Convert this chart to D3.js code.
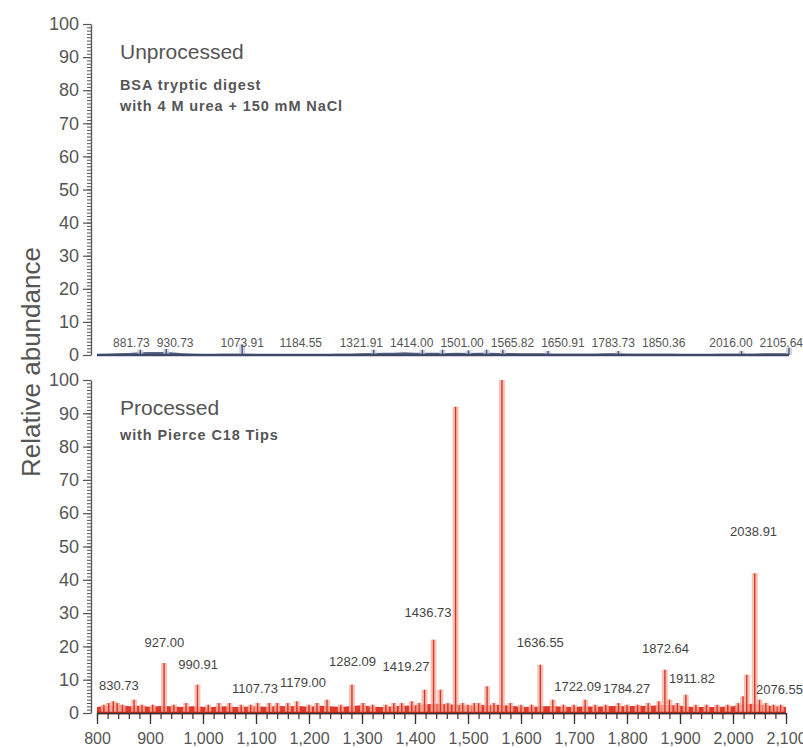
<!DOCTYPE html>
<html>
<head>
<meta charset="utf-8">
<script src="https://cdn.jsdelivr.net/npm/d3@7"></script>
<style>
    body { margin: 0; background: #fff; }
    text { font-family: "Liberation Sans", Arial, sans-serif; }
</style>
</head>
<body>
<svg id="chart" width="803" height="748"></svg>
<script>
// axis ticks
var xTicks = [800, 900, 1000, 1100, 1200, 1300, 1400, 1500, 1600, 1700, 1800, 1900, 2000, 2100];
var yTicks = [0, 10, 20, 30, 40, 50, 60, 70, 80, 90, 100];

// unprocessed spectrum: baseline level every 20 m/z from 800, then the small spikes
var rawBase = [0.3, 0.4, 0.5, 0.6, 0.8, 0.9, 0.9, 0.8, 0.5, 0.4, 0.3, 0.3, 0.4, 0.4, 0.4, 0.3, 0.3,
    0.3, 0.3, 0.3, 0.3, 0.3, 0.3, 0.4, 0.4, 0.5, 0.6, 0.7, 0.7, 0.8, 0.7, 0.7, 0.7, 0.6, 0.7, 0.6,
    0.7, 0.7, 0.6, 0.6, 0.5, 0.5, 0.5, 0.4, 0.4, 0.4, 0.4, 0.4, 0.5, 0.5, 0.4, 0.4, 0.4, 0.4, 0.4,
    0.3, 0.3, 0.3, 0.3, 0.4, 0.4, 0.4, 0.4, 0.5, 0.5, 0.5];
var rawPeakMz = [881.7, 930.7, 1073.9, 1321.9, 1414.0, 1452, 1501.0, 1535, 1565.8, 1650.9, 1783.7, 2016.0, 2105.6];
var rawPeakInt = [1.6, 1.8, 3.2, 1.6, 1.6, 1.6, 1.4, 1.6, 1.6, 1.2, 1.2, 1.2, 2.2];
var rawLabels = [881.73, 930.73, 1073.91, 1184.55, 1321.91, 1414.00, 1501.00, 1565.82, 1650.91, 1783.73, 1850.36, 2016.00, 2105.64];

// processed spectrum
var procBase = [1.8, 2.2, 2.4, 2.0, 2.2, 1.9, 2.1, 2.0, 1.8, 2.0, 1.9, 1.8, 2.0, 1.8, 1.9, 2.0, 1.9,
    2.1, 2.0, 2.1, 1.9, 2.2, 2.0, 1.8, 2.1, 2.3, 1.9, 1.8, 2.0, 2.2, 2.3, 2.6, 2.8, 2.6, 2.5, 2.2,
    2.4, 2.3, 2.5, 2.2, 1.9, 1.8, 2.0, 2.1, 1.9, 1.8, 2.0, 1.9, 2.0, 2.1, 2.0, 2.2, 2.1, 2.3, 2.4,
    2.2, 1.9, 1.8, 1.8, 1.9, 2.0, 2.6, 2.8, 2.3, 2.0, 1.8];
var procPeakMz = [813, 822, 830.7, 838, 848, 870, 885, 905, 926.5, 945, 968, 989.5, 1010, 1030, 1050,
    1072, 1090, 1103, 1125, 1140, 1160, 1177, 1200, 1215, 1234, 1260, 1281, 1302, 1320, 1345, 1360,
    1375, 1394, 1408, 1418, 1435, 1448, 1462, 1476.5, 1490, 1500, 1512, 1520, 1536, 1549, 1564,
    1580, 1600, 1620, 1636.5, 1660, 1680, 1700, 1721, 1740, 1760, 1784, 1800, 1820, 1840, 1860,
    1871.5, 1880, 1895, 1911, 1930, 1950, 1970, 1990, 2010, 2019, 2026, 2041, 2050, 2062, 2076.6, 2090];
var procPeakInt = [2.5, 3.0, 3.5, 3.0, 2.5, 4.0, 2.5, 2.5, 15.0, 2.5, 3.0, 8.5, 2.5, 3.0, 3.0,
    2.5, 2.5, 3.0, 3.0, 3.0, 3.0, 3.5, 2.5, 3.0, 4.0, 2.5, 8.5, 3.0, 2.5, 2.5, 3.0,
    3.0, 3.5, 3.0, 7.0, 22.0, 7.0, 3.0, 92.0, 3.0, 2.5, 3.0, 3.0, 8.0, 3.0, 100.0,
    3.0, 2.5, 2.5, 14.5, 4.0, 2.5, 2.5, 4.0, 2.5, 2.5, 3.0, 2.5, 2.5, 3.0, 3.5,
    13.0, 4.0, 3.0, 5.5, 2.5, 2.5, 2.5, 2.5, 3.0, 5.0, 11.5, 42.0, 4.0, 3.0, 2.5, 2.5];
var procLabels = [830.73, 927.00, 990.91, 1107.73, 1179.00, 1282.09, 1419.27, 1436.73, 1636.55,
    1722.09, 1784.27, 1872.64, 1911.82, 2038.91, 2076.55];
// abundance level each annotation sits at
var procLabelLevel = [7.0, 19.7, 13.1, 5.9, 7.7, 14.0, 12.5, 28.7, 19.7, 6.5, 5.9, 17.9, 8.9, 53.3, 5.6];

var svg = d3.select("#chart");

var x = d3.scaleLinear().domain([800, 2100]).range([97, 786]);
var yTop = d3.scaleLinear().domain([0, 100]).range([355, 24]);
var yBot = d3.scaleLinear().domain([0, 100]).range([713, 380]);
var axisX = 91;

function baseMz(i) { return 800 + i * 20; }

function drawYAxis(y) {
    var minor = svg.append("g").attr("transform", "translate(" + axisX + ",0)")
        .call(d3.axisLeft(y).tickValues(d3.range(0, 101, 1)).tickSize(4).tickSizeOuter(0).tickFormat(""));
    minor.select(".domain").remove();
    minor.selectAll("line").attr("stroke", "#555");

    var major = svg.append("g").attr("transform", "translate(" + axisX + ",0)")
        .call(d3.axisLeft(y).tickValues(yTicks).tickSize(8).tickSizeOuter(0).tickPadding(4));
    major.select(".domain").attr("stroke", "#555").attr("stroke-width", 1.3);
    major.selectAll("line").attr("stroke", "#555").attr("stroke-width", 1.2);
    major.selectAll("text").attr("font-size", 18).attr("fill", "#555")
        .attr("font-family", "'Liberation Sans', Arial, sans-serif");
}

// peak annotations; labels are nudged sideways off each other and off taller peaks
function placeLabels(vals, levels, y, size, color, pad, peakMz, peakInt) {
    var g = svg.append("g");
    var items = vals.map(function (v, i) {
        var t = g.append("text")
            .attr("x", x(v))
            .attr("y", y(levels[i]))
            .attr("text-anchor", "middle")
            .attr("font-size", size)
            .attr("fill", color)
            .text(d3.format(".2f")(v));
        return { node: t, cx: x(v), y: y(levels[i]), lvl: levels[i], w: t.node().getComputedTextLength() };
    });
    for (var k = 0; k < 60; k++) {
        for (var i = 0; i < items.length; i++) {
            for (var j = i + 1; j < items.length; j++) {
                var a = items[i], b = items[j];
                if (Math.abs(a.y - b.y) > size) continue;
                var gap = (a.w + b.w) / 2 + pad - Math.abs(b.cx - a.cx);
                if (gap > 0) {
                    var s = b.cx >= a.cx ? 1 : -1;
                    a.cx -= s * gap / 2;
                    b.cx += s * gap / 2;
                }
            }
        }
        items.forEach(function (d) {
            (peakMz || []).forEach(function (m, p) {
                if (peakInt[p] < d.lvl) return;
                var px = x(m), over = d.w / 2 + 4 - Math.abs(d.cx - px);
                if (over > 0) d.cx += (d.cx >= px ? 1 : -1) * over;
            });
            d.cx = Math.max(axisX + 8 + d.w / 2, Math.min(803 - d.w / 2, d.cx));
        });
    }
    items.forEach(function (d) { d.node.attr("x", d.cx); });
}

function drawSpectrum(y, base, peakMz, peakInt, halo, core, fill) {
    var area = d3.area()
        .x(function (d, i) { return x(baseMz(i)); })
        .y0(y(0))
        .y1(function (d) { return y(d); });
    svg.append("path").datum(base).attr("d", area).attr("fill", fill);

    var sticks = peakMz.map(function (m, i) { return [m, peakInt[i]]; });
    var line = function (d) { return "M" + x(d[0]) + "," + y(0) + "V" + y(d[1]); };
    svg.append("g").selectAll("path").data(sticks).join("path")
        .attr("d", line).attr("stroke", halo).attr("stroke-width", 6).attr("opacity", 0.8);
    svg.append("g").selectAll("path").data(sticks).join("path")
        .attr("d", line).attr("stroke", core).attr("stroke-width", 1.4);
}

// top panel
drawYAxis(yTop);
drawSpectrum(yTop, rawBase, rawPeakMz, rawPeakInt, "#c3cadf", "#4b5577", "#5a6486");
svg.append("line")
    .attr("x1", x(800)).attr("x2", x(2105.6))
    .attr("y1", yTop(0)).attr("y2", yTop(0))
    .attr("stroke", "#3f4868").attr("stroke-width", 2.5);
placeLabels(rawLabels, rawLabels.map(function () { return 2.4; }), yTop, 12, "#555", 7);

// bottom panel
drawYAxis(yBot);
drawSpectrum(yBot, procBase, procPeakMz, procPeakInt, "#f6b4a4", "#d5372a", "#e0382a");
svg.append("line")
    .attr("x1", x(800)).attr("x2", x(2100))
    .attr("y1", yBot(0)).attr("y2", yBot(0))
    .attr("stroke", "#d2281c").attr("stroke-width", 2.5);
placeLabels(procLabels, procLabelLevel, yBot, 13, "#444", 2, procPeakMz, procPeakInt);

// x axis
var xMinor = svg.append("g").attr("transform", "translate(0," + yBot(0) + ")")
    .call(d3.axisBottom(x).tickValues(d3.range(800, 2101, 20)).tickSize(6).tickSizeOuter(0).tickFormat(""));
xMinor.select(".domain").remove();
xMinor.selectAll("line").attr("stroke", "#333").attr("stroke-width", 1.2);
var xMajor = svg.append("g").attr("transform", "translate(0," + yBot(0) + ")")
    .call(d3.axisBottom(x).tickValues(xTicks).tickSize(11).tickSizeOuter(0).tickPadding(9).tickFormat(d3.format(",")));
xMajor.select(".domain").attr("stroke", "#333").attr("stroke-width", 1.3);
xMajor.selectAll("line").attr("stroke", "#333").attr("stroke-width", 1.3);
xMajor.selectAll("text").attr("font-size", 16).attr("fill", "#555")
    .attr("font-family", "'Liberation Sans', Arial, sans-serif");

// panel titles
function title(txt, yPos, size, bold) {
    svg.append("text").attr("x", 120).attr("y", yPos)
        .attr("font-size", size)
        .attr("font-weight", bold ? "bold" : "normal")
        .attr("letter-spacing", bold ? 0.9 : 0)
        .attr("fill", "#555")
        .text(txt);
}
title("Unprocessed", 59, 21, false);
title("BSA tryptic digest", 90, 14.5, true);
title("with 4 M urea + 150 mM NaCl", 111, 14.5, true);
title("Processed", 415, 21, false);
title("with Pierce C18 Tips", 440, 14.5, true);

svg.append("text")
    .attr("transform", "translate(40,362) rotate(-90)")
    .attr("text-anchor", "middle")
    .attr("font-size", 26)
    .attr("fill", "#555")
    .text("Relative abundance");
</script>
</body>
</html>
